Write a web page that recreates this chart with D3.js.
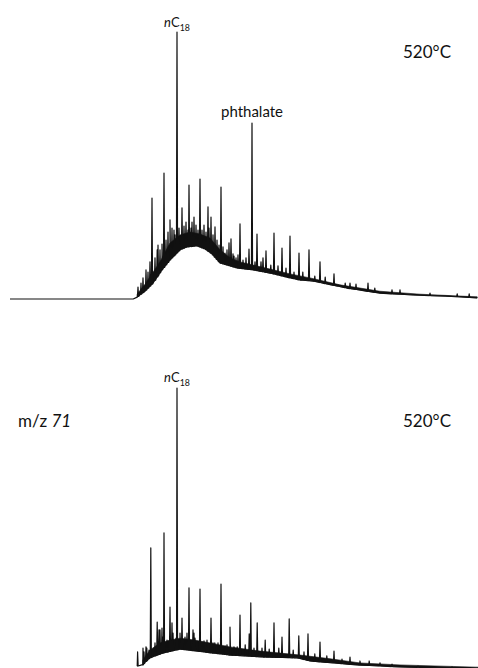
<!DOCTYPE html>
<html>
<head>
<meta charset="utf-8">
<script src="https://cdn.jsdelivr.net/npm/d3@7"></script>
<style>
  html, body { margin: 0; padding: 0; background: #fff; }
  svg { display: block; }
  text { font-family: Lato, "Open Sans", sans-serif; fill: #111; }
</style>
</head>
<body>
<svg id="chart" width="478" height="668"></svg>
<script>
// Retention time in minutes, intensity as % of the nC18 peak.

// TIC, 520 °C pyrolysate: lower edge of the UCM hump
const ticBaseline = [
  [0, 0], [15.4, 0], [15.9, 0.7], [16.9, 3.0], [17.9, 6.0], [19.0, 10.9],
  [20.0, 14.6], [21.25, 18.4], [22.1, 19.5], [23.4, 19.9], [24.4, 18.7],
  [25.25, 16.9], [26.25, 13.5], [28.4, 11.6], [30.4, 10.9], [32.5, 9.7],
  [34.6, 8.2], [36.25, 7.1], [37.9, 6.7], [42.1, 4.1], [46.25, 2.2],
  [50.4, 1.5], [54.4, 1.1], [58.4, 0.4]
];
// TIC: upper edge of the noise band riding on the hump
const ticNoiseTop = [
  [15.9, 1.9], [16.9, 5.6], [17.9, 10.1], [18.75, 13.9], [20.0, 21.0],
  [21.25, 24.0], [22.5, 25.1], [23.75, 24.3], [25.0, 22.8], [26.25, 18.4],
  [27.5, 15.4], [28.75, 13.9], [30.4, 12.7], [32.5, 11.2], [35.0, 9.4],
  [37.5, 7.9], [41.25, 5.3], [46.25, 2.9], [51.25, 1.8], [58.4, 0.8]
];
// TIC: resolved peaks [time, apex]
const ticPeaks = [
  [16.0, 4.5], [17.75, 37.8], [18.4, 18.4], [18.75, 18.4], [19.25, 47.2],
  [20.0, 29.6], [20.25, 26.6], [20.875, 100], [21.5, 34.1], [22.0, 28.8],
  [22.375, 42.7], [23.0, 30.7], [23.75, 44.9], [24.25, 27.7], [24.75, 34.5],
  [25.125, 30.7], [25.625, 27.0], [26.375, 41.9], [26.875, 17.2], [27.375, 21.0],
  [27.625, 22.5], [28.0, 16.1], [28.75, 28.1], [29.875, 18.7], [30.25, 65.9],
  [30.875, 24.3], [32.0, 18.0], [33.0, 24.7], [34.0, 19.1], [35.0, 23.6],
  [36.125, 17.2], [37.375, 18.4], [38.75, 13.9], [40.5, 9.4], [41.0, 5.2],
  [42.5, 6.0], [44.75, 6.0], [47.75, 3.4]
];
// TIC: minor unresolved spikes on top of the hump
const ticMinor = [
  [16.375, 6.0], [16.625, 7.9], [17.0, 10.9], [17.25, 10.1], [17.5, 13.9],
  [18.125, 15.4], [18.5, 20.2], [19.0, 20.6], [19.5, 22.1], [19.75, 25.1],
  [20.5, 25.8], [20.625, 24.0], [21.125, 26.6], [21.75, 27.3], [22.25, 25.8],
  [22.625, 26.6], [22.75, 28.8], [23.25, 27.7], [23.5, 25.8], [24.0, 25.8],
  [24.5, 25.1], [24.875, 26.6], [25.375, 24.0], [25.875, 22.1], [26.125, 20.2],
  [26.625, 19.5], [27.125, 18.4], [27.875, 16.9], [28.25, 15.4], [28.5, 16.5],
  [29.125, 14.6], [29.5, 15.4], [30.625, 13.9], [31.375, 13.9], [31.625, 15.4],
  [32.6, 12.7], [33.5, 12.4], [34.5, 11.6], [35.5, 10.1], [36.6, 10.1],
  [38.1, 8.6], [39.4, 8.2], [41.9, 6.0], [43.25, 5.6], [45.6, 4.1],
  [48.75, 3.4], [52.5, 2.2], [55.9, 1.9], [57.4, 1.9]
];

// m/z 71 extracted ion chromatogram
const ionBaseline = [
  [15.9, 1.4], [16.6, 1.8], [16.9, 2.8], [17.5, 4.3], [19.1, 6.0],
  [21.25, 7.4], [23.4, 6.7], [25.4, 6.0], [27.5, 5.3], [31.6, 4.6],
  [35.9, 4.3], [37.5, 3.2], [43.4, 1.8], [48.75, 1.1], [58.5, 0.4]
];
const ionNoiseTop = [
  [16.6, 3.5], [17.5, 7.1], [18.75, 9.6], [20.0, 10.6], [21.25, 11.3],
  [23.1, 10.6], [25.0, 9.6], [27.5, 8.2], [31.25, 6.7], [36.25, 5.3],
  [40.0, 4.0], [43.75, 2.5], [48.75, 1.8], [58.5, 1.0]
];
const ionPeaks = [
  [15.95, 6.4], [16.75, 6.4], [17.1, 7.8], [17.6, 43.3], [18.4, 17.0],
  [18.75, 14.2], [19.0, 14.9], [19.25, 48.6], [20.0, 22.3], [20.25, 16.7],
  [20.875, 100], [21.5, 18.4], [22.375, 29.1], [23.0, 13.1], [23.75, 28.7],
  [24.25, 10.3], [25.125, 18.4], [25.6, 9.6], [26.375, 30.5], [26.9, 8.5],
  [27.5, 15.2], [28.0, 8.2], [28.75, 19.5], [29.9, 12.8], [30.1, 23.8],
  [30.9, 16.7], [31.9, 10.6], [33.0, 16.7], [34.0, 11.7], [34.9, 18.1],
  [36.1, 12.1], [37.25, 12.8], [38.75, 9.9], [40.5, 6.7], [42.5, 4.6],
  [44.9, 3.2], [47.75, 2.1], [51.0, 1.4], [55.25, 1.1]
];
const ionMinor = [
  [16.625, 7.8], [17.0, 8.2], [17.375, 7.1], [18.125, 9.6], [18.625, 14.2],
  [19.125, 11.7], [19.625, 10.6], [20.375, 13.1], [20.75, 11.3], [21.25, 13.1],
  [21.875, 11.7], [22.125, 13.1], [22.875, 14.2], [23.125, 11.3], [24.0, 9.9],
  [24.625, 10.6], [25.375, 9.6], [26.0, 9.6], [26.625, 8.2], [27.125, 8.9],
  [28.4, 8.2], [29.4, 8.9], [30.5, 7.8], [31.5, 7.8], [32.4, 7.4],
  [33.6, 7.8], [35.4, 7.1], [36.75, 6.4], [38.1, 5.7], [39.6, 5.0],
  [41.5, 3.9], [43.75, 3.2], [46.25, 2.5]
];

const svg = d3.select("#chart");
const x = d3.scaleLinear().domain([0, 58.5]).range([10, 478]);

function drawTrace(base, noiseTop, peaks, yRange) {
  const y = d3.scaleLinear().domain([0, 100]).range(yRange);
  // piecewise-linear foot level under each peak
  const foot = d3.scaleLinear().domain(base.map(d => d[0])).range(base.map(d => d[1])).clamp(true);
  const line = d3.line().x(d => x(d[0])).y(d => y(d[1]));

  // noise band between the hump edge and the noise envelope
  const band = noiseTop.concat(base.filter(d => d[0] >= noiseTop[0][0]).slice().reverse());
  svg.append("path").attr("d", line(band) + "Z")
    .attr("fill", "#111").attr("stroke", "#111").attr("stroke-width", 0.6)
    .attr("stroke-linejoin", "round");

  // trace: baseline vertices plus a narrow triangle for each peak
  const hw = 0.07;
  const pts = base.map(d => ({ t: d[0], v: d[1] }));
  peaks.forEach(p => {
    const f = foot(p[0]);
    pts.push({ t: p[0] - hw, v: f }, { t: p[0], v: p[1] }, { t: p[0] + hw, v: f });
  });
  pts.sort((a, b) => a.t - b.t);
  svg.append("path")
    .attr("d", d3.line().x(d => x(d.t)).y(d => y(d.v))(pts))
    .attr("fill", "none").attr("stroke", "#111").attr("stroke-width", 1.2)
    .attr("stroke-linejoin", "round");
  return y;
}

const yTic = drawTrace(ticBaseline, ticNoiseTop, ticPeaks.concat(ticMinor), [299, 32]);
const yIon = drawTrace(ionBaseline, ionNoiseTop, ionPeaks.concat(ionMinor), [670, 388]);

function peakLabel(t, yPos, size) {
  const g = svg.append("text").attr("x", x(t)).attr("y", yPos)
    .attr("text-anchor", "middle").attr("font-size", size);
  g.append("tspan").attr("font-style", "italic").text("n");
  g.append("tspan").text("C");
  g.append("tspan").attr("font-size", size * 0.68).attr("dy", 4).text("18");
}

// annotations, upper panel
peakLabel(20.875, 27, 13);
svg.append("text").attr("x", x(30.25)).attr("y", 117)
  .attr("text-anchor", "middle").attr("font-size", 15).text("phthalate");
svg.append("text").attr("x", 403).attr("y", 58).attr("font-size", 17).text("520°C");

// annotations, lower panel
peakLabel(20.875, 382, 13);
const mz = svg.append("text").attr("x", 18).attr("y", 427).attr("font-size", 17);
mz.append("tspan").text("m/z ");
mz.append("tspan").attr("font-style", "italic").text("71");
svg.append("text").attr("x", 403).attr("y", 427).attr("font-size", 17).text("520°C");
</script>
</body>
</html>
